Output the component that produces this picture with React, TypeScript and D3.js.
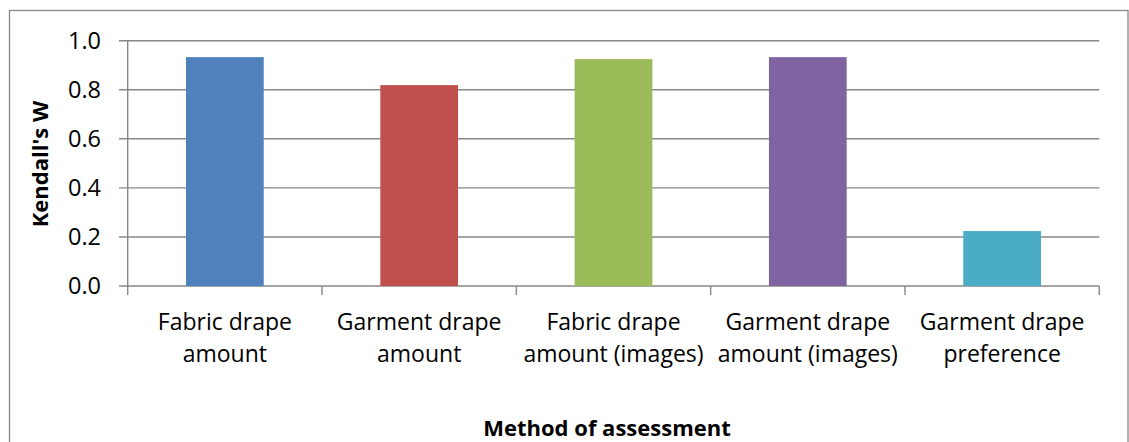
import React from "react";
import * as d3 from "d3";

const categories: string[][] = [
  ["Fabric drape", "amount"],
  ["Garment drape", "amount"],
  ["Fabric drape", "amount (images)"],
  ["Garment drape", "amount (images)"],
  ["Garment drape", "preference"],
];
const values: number[] = [0.933, 0.819, 0.925, 0.933, 0.224];
const colors: string[] = ["#4F81BD", "#C0504D", "#9BBB59", "#8064A2", "#4BACC6"];
const yTicks: number[] = [0, 0.2, 0.4, 0.6, 0.8, 1.0];
const yTitle = "Kendall's W";
const xTitle = "Method of assessment";

const W = 1129;
const H = 442;
const left = 127.7;
const right = 1099.3;
const top = 40.7;
const bottom = 286;
const FONT = "'Open Sans', sans-serif";
const GRID = "#878787";

export default function App() {
  const idx = categories.map((_, i) => String(i));
  const x = d3.scaleBand<string>().domain(idx).range([left, right]).paddingInner(0.6).paddingOuter(0.3);
  const xOuter = d3.scaleBand<string>().domain(idx).range([left, right]);
  const y = d3.scaleLinear().domain([0, 1]).range([bottom, top]);

  return (
    <svg width={W} height={H} style={{ position: "absolute", left: 0, top: 0, background: "#fff" }}>
      <rect x={9.5} y={10.5} width={1118.5} height={500} fill="#fff" stroke={GRID} strokeWidth={1.3} />
      {yTicks.map((t) => (
        <g key={t}>
          <line x1={119} x2={right} y1={y(t)} y2={y(t)} stroke={GRID} strokeWidth={1.4} />
          <text x={101} y={y(t)} dy="0.35em" textAnchor="end" fontFamily={FONT} fontSize={23.5} fill="#000">
            {d3.format(".1f")(t)}
          </text>
        </g>
      ))}
      <line x1={left} x2={left} y1={top} y2={bottom} stroke={GRID} strokeWidth={1.4} />
      {idx.map((d) => (
        <line key={"t" + d} x1={xOuter(d)!} x2={xOuter(d)!} y1={bottom} y2={bottom + 9} stroke={GRID} strokeWidth={1.4} />
      ))}
      <line x1={right} x2={right} y1={bottom} y2={bottom + 9} stroke={GRID} strokeWidth={1.4} />
      {values.map((v, i) => (
        <rect
          key={"b" + i}
          x={x(String(i))!}
          y={y(v)}
          width={x.bandwidth()}
          height={y(0) - y(v)}
          fill={colors[i]}
        />
      ))}
      {categories.map((lines, i) => (
        <text
          key={"c" + i}
          textAnchor="middle"
          fontFamily={FONT}
          fontSize={23}
          fill="#000"
        >
          {lines.map((ln, j) => (
            <tspan key={j} x={xOuter(String(i))! + xOuter.bandwidth() / 2} y={330 + j * 32}>
              {ln}
            </tspan>
          ))}
        </text>
      ))}
      <text
        transform={`translate(48,164) rotate(-90)`}
        textAnchor="middle"
        fontFamily={FONT}
        fontWeight="bold"
        fontSize={22}
        fill="#000"
      >
        {yTitle}
      </text>
      <text x={607} y={436} textAnchor="middle" fontFamily={FONT} fontWeight="bold" fontSize={22} fill="#000">
        {xTitle}
      </text>
    </svg>
  );
}
